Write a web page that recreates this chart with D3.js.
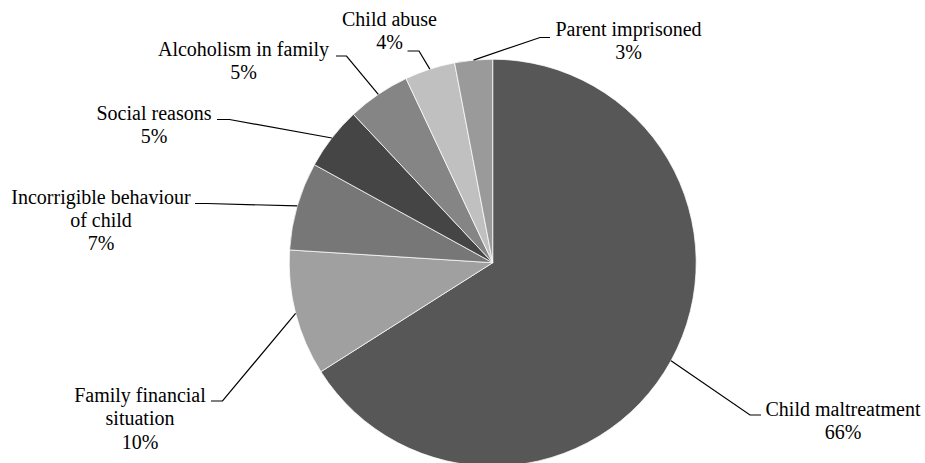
<!DOCTYPE html>
<html>
<head>
<meta charset="utf-8">
<script src="https://cdn.jsdelivr.net/npm/d3@7"></script>
<style>
  body { margin: 0; background: #fff; }
  #wrap { position: relative; width: 925px; height: 463px; overflow: hidden; }
  svg { display: block; position: absolute; left: 0; top: 0; }
  .label {
    position: absolute;
    width: 300px;
    text-align: center;
    font-family: 'Liberation Serif', 'Times New Roman', serif;
    font-size: 20px;
    line-height: 23.3px;
    color: #000;
    white-space: nowrap;
  }
</style>
</head>
<body>
<div id="wrap"><svg class="chart"></svg></div>
<script>
// ----- Data -----
let categories = ['Child maltreatment', 'Family financial situation', 'Incorrigible behaviour of child',
                  'Social reasons', 'Alcoholism in family', 'Child abuse', 'Parent imprisoned']
let values = [66, 10, 7, 5, 5, 4, 3]
// label text, split on lines as in the picture
let labelLines = [['Child maltreatment'], ['Family financial', 'situation'], ['Incorrigible behaviour', 'of child'],
                  ['Social reasons'], ['Alcoholism in family'], ['Child abuse'], ['Parent imprisoned']]

// ----- Styles / layout -----
let sliceColors = ['#575757', '#a0a0a0', '#777777', '#454545', '#858585', '#c0c0c0', '#9a9a9a']
// text centre + first baseline, leader elbow, leader end (hand placed, like Excel did)
let labelLayout = [
  {tx: 843, ty: 416.5, elbow: [750, 415], end: [761, 415]},
  {tx: 140, ty: 402.5, elbow: [222.5, 401], end: [211, 401]},
  {tx: 101, ty: 204, elbow: [207, 203.5], end: [195, 203.5]},
  {tx: 154, ty: 120, elbow: [229.5, 119.5], end: [217, 119.5]},
  {tx: 243.5, ty: 56.5, elbow: [346.5, 56], end: [336, 56]},
  {tx: 389.5, ty: 26, elbow: [419, 51], end: [407.5, 51]},
  {tx: 628.5, ty: 36.5, elbow: [540, 37.5], end: [550, 37.5]}
]
let baselineOffset = 18.4 // first baseline below the top of the label box

let svgWidth = 925
let svgHeight = 463
let cx = 492.7
let cy = 262.7
let radius = 203.5

let svg = d3.select('.chart')
            .attr('width', svgWidth)
            .attr('height', svgHeight)

let data = categories.map(function (c, i) {
  return {name: c, value: values[i], lines: labelLines[i]}
})

let pie = d3.pie()
            .value(function (d) { return d.value })
            .sort(null)

let arc = d3.arc()
            .innerRadius(0)
            .outerRadius(radius)

// arc of zero width on the rim, used to find where leaders touch the pie
let rimArc = d3.arc()
               .innerRadius(radius)
               .outerRadius(radius)

let arcs = pie(data)

let g = svg.append('g')
           .attr('transform', 'translate(' + cx + ',' + cy + ')')

// Slices
g.selectAll('path.slice')
 .data(arcs)
 .enter()
 .append('path')
 .attr('class', 'slice')
 .attr('d', arc)
 .attr('fill', function (d) { return sliceColors[d.index] })
 .attr('stroke', '#ffffff')
 .attr('stroke-width', 0.75)

// Leader lines
svg.selectAll('polyline.leader')
   .data(arcs)
   .enter()
   .append('polyline')
   .attr('class', 'leader')
   .attr('points', function (d) {
      let c = rimArc.centroid(d)
      let lay = labelLayout[d.index]
      let start = [cx + c[0], cy + c[1]]
      return [start, lay.elbow, lay.end].map(function (p) { return p.join(',') }).join(' ')
   })
   .attr('fill', 'none')
   .attr('stroke', '#000')
   .attr('stroke-width', 1.2)

// Labels (html text so the serif face is used)
d3.select('#wrap')
  .selectAll('div.label')
  .data(arcs)
  .enter()
  .append('div')
  .attr('class', 'label')
  .style('left', function (d) { return (labelLayout[d.index].tx - 150) + 'px' })
  .style('top', function (d) { return (labelLayout[d.index].ty - baselineOffset) + 'px' })
  .html(function (d) {
     let lines = d.data.lines.concat([Math.round(d.data.value) + '%'])
     return lines.join('<br>')
  })
</script>
</body>
</html>
